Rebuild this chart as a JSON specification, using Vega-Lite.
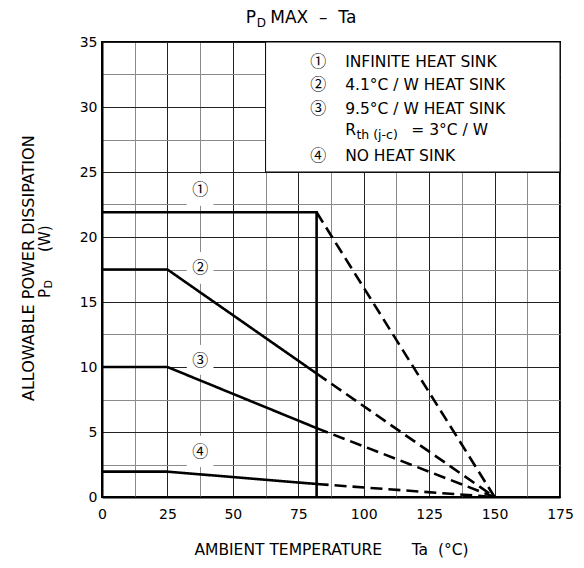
{
  "$schema": "https://vega.github.io/schema/vega-lite/v6.json",
  "width": 458,
  "height": 455,
  "autosize": "none",
  "padding": {"left": 102, "top": 42, "right": 24, "bottom": 71},
  "background": "white",
  "config": {
    "font": "DejaVu Sans",
    "view": {"stroke": "#000", "strokeWidth": 2},
    "text": {"font": "DejaVu Sans", "color": "#000"}
  },
  "datasets": {
    "curves": [
      {"s": "1", "part": "rated", "i": 0, "x": 0, "y": 21.9},
      {"s": "1", "part": "rated", "i": 1, "x": 82, "y": 21.9},
      {"s": "1", "part": "rated", "i": 2, "x": 82, "y": 0},
      {"s": "1", "part": "extrapolated", "i": 0, "x": 82, "y": 21.9},
      {"s": "1", "part": "extrapolated", "i": 1, "x": 150, "y": 0},
      {"s": "2", "part": "rated", "i": 0, "x": 0, "y": 17.5},
      {"s": "2", "part": "rated", "i": 1, "x": 25, "y": 17.5},
      {"s": "2", "part": "rated", "i": 2, "x": 82, "y": 9.5},
      {"s": "2", "part": "extrapolated", "i": 0, "x": 82, "y": 9.5},
      {"s": "2", "part": "extrapolated", "i": 1, "x": 150, "y": 0},
      {"s": "3", "part": "rated", "i": 0, "x": 0, "y": 10},
      {"s": "3", "part": "rated", "i": 1, "x": 25, "y": 10},
      {"s": "3", "part": "rated", "i": 2, "x": 82, "y": 5.3},
      {"s": "3", "part": "extrapolated", "i": 0, "x": 82, "y": 5.3},
      {"s": "3", "part": "extrapolated", "i": 1, "x": 150, "y": 0},
      {"s": "4", "part": "rated", "i": 0, "x": 0, "y": 1.95},
      {"s": "4", "part": "rated", "i": 1, "x": 25, "y": 1.95},
      {"s": "4", "part": "rated", "i": 2, "x": 82, "y": 1.0},
      {"s": "4", "part": "extrapolated", "i": 0, "x": 82, "y": 1.0},
      {"s": "4", "part": "extrapolated", "i": 1, "x": 150, "y": 0}
    ],
    "legendBox": [{"x": 62.5, "x2": 175, "y": 25, "y2": 35}],
    "labelBoxes": [
      {"x": 32.4, "x2": 42.6, "y": 22.4, "y2": 24.85},
      {"x": 32.4, "x2": 42.6, "y": 16.4, "y2": 18.85},
      {"x": 32.4, "x2": 42.6, "y": 9.4, "y2": 11.7},
      {"x": 32.4, "x2": 42.6, "y": 2.3, "y2": 4.7}
    ],
    "circled": [
      {"x": 37.5, "y": 23.6, "t": "①"},
      {"x": 37.5, "y": 17.6, "t": "②"},
      {"x": 37.5, "y": 10.5, "t": "③"},
      {"x": 37.5, "y": 3.5, "t": "④"},
      {"x": 82.6, "y": 33.46, "t": "①"},
      {"x": 82.6, "y": 31.69, "t": "②"},
      {"x": 82.6, "y": 29.85, "t": "③"},
      {"x": 82.6, "y": 26.23, "t": "④"}
    ],
    "legendText": [
      {"x": 92.9, "y": 33.46, "t": "INFINITE HEAT SINK"},
      {"x": 92.9, "y": 31.69, "t": "4.1°C / W HEAT SINK"},
      {"x": 92.9, "y": 29.85, "t": "9.5°C / W HEAT SINK"},
      {"x": 92.9, "y": 28.23, "t": "R"},
      {"x": 118.2, "y": 28.23, "t": "= 3°C / W"},
      {"x": 92.9, "y": 26.23, "t": "NO HEAT SINK"}
    ],
    "legendSub": [
      {"x": 97.2, "y": 28.23, "t": "th (j-c)"}
    ],
    "titleP": [
      {"x": 58.85, "y": 36.85, "t": "P"}
    ],
    "titleRest": [
      {"x": 64.3, "y": 36.85, "t": "MAX\u00a0\u00a0–\u00a0\u00a0Ta"}
    ],
    "titleSub": [
      {"x": 59.1, "y": 36.85, "t": "D"}
    ],
    "yTitle": [
      {"x": -27.9, "y": 17.6, "t": "ALLOWABLE POWER DISSIPATION"}
    ],
    "yTitle2": [
      {"x": -21.8, "y": 15.31, "t": "P"},
      {"x": -21.8, "y": 18.85, "t": "(W)"}
    ],
    "yTitle2Sub": [
      {"x": -21.8, "y": 16.04, "t": "D"}
    ]
  },
  "encoding": {
    "x": {
      "field": "x", "type": "quantitative",
      "scale": {"domain": [0, 175], "nice": false, "zero": false},
      "axis": {
        "values": [0, 12.5, 25, 37.5, 50, 62.5, 75, 87.5, 100, 112.5, 125, 137.5, 150, 162.5, 175],
        "labelExpr": "datum.value % 25 === 0 ? datum.label : ''",
        "labelOverlap": false,
        "labelFlush": false,
        "ticks": false,
        "grid": true,
        "gridColor": {"condition": {"test": "datum.value % 25 === 0", "value": "#222"}, "value": "#8a8a8a"},
        "gridWidth": 1,
        "domainColor": "#000",
        "domainWidth": 2,
        "labelFont": "DejaVu Sans",
        "labelFontSize": 14,
        "labelColor": "#000",
        "labelPadding": 10,
        "title": "AMBIENT TEMPERATURE\u00a0\u00a0\u00a0\u00a0\u00a0\u00a0Ta\u00a0\u00a0(°C)",
        "titleFont": "DejaVu Sans",
        "titleFontSize": 15.5,
        "titleFontWeight": "normal",
        "titleColor": "#000",
        "titlePadding": 21
      }
    },
    "y": {
      "field": "y", "type": "quantitative",
      "scale": {"domain": [0, 35], "nice": false, "zero": false},
      "axis": {
        "values": [0, 2.5, 5, 7.5, 10, 12.5, 15, 17.5, 20, 22.5, 25, 27.5, 30, 32.5, 35],
        "labelExpr": "datum.value % 5 === 0 ? datum.label : ''",
        "labelOverlap": false,
        "labelFlush": false,
        "ticks": false,
        "grid": true,
        "gridColor": {"condition": {"test": "datum.value % 5 === 0", "value": "#222"}, "value": "#8a8a8a"},
        "gridWidth": 1,
        "domainColor": "#000",
        "domainWidth": 2,
        "labelFont": "DejaVu Sans",
        "labelFontSize": 14,
        "labelColor": "#000",
        "labelPadding": 5,
        "title": null
      }
    }
  },
  "layer": [
    {
      "data": {"name": "legendBox"},
      "mark": {"type": "rect", "fill": "white", "stroke": "#000", "strokeWidth": 1},
      "encoding": {"x2": {"field": "x2"}, "y2": {"field": "y2"}}
    },
    {
      "data": {"name": "labelBoxes"},
      "mark": {"type": "rect", "fill": "white", "strokeWidth": 0},
      "encoding": {"x2": {"field": "x2"}, "y2": {"field": "y2"}}
    },
    {
      "data": {"name": "curves"},
      "mark": {"type": "line", "color": "#000", "strokeWidth": 2.6},
      "encoding": {
        "detail": [{"field": "s"}, {"field": "part"}],
        "order": {"field": "i", "type": "quantitative"},
        "strokeDash": {
          "field": "part", "type": "nominal",
          "scale": {"domain": ["rated", "extrapolated"], "range": [[1, 0], [12, 6]]},
          "legend": null
        }
      }
    },
    {
      "data": {"name": "circled"},
      "mark": {"type": "text", "font": "Noto Sans CJK JP", "fontSize": 16, "align": "center", "baseline": "middle"},
      "encoding": {"text": {"field": "t"}}
    },
    {
      "data": {"name": "legendText"},
      "mark": {"type": "text", "fontSize": 15.5, "align": "left", "baseline": "middle"},
      "encoding": {"text": {"field": "t"}}
    },
    {
      "data": {"name": "legendSub"},
      "mark": {"type": "text", "fontSize": 12.5, "align": "left", "baseline": "middle", "dy": 5},
      "encoding": {"text": {"field": "t"}}
    },
    {
      "data": {"name": "titleP"},
      "mark": {"type": "text", "fontSize": 17, "align": "right", "baseline": "middle"},
      "encoding": {"text": {"field": "t"}}
    },
    {
      "data": {"name": "titleRest"},
      "mark": {"type": "text", "fontSize": 17, "align": "left", "baseline": "middle"},
      "encoding": {"text": {"field": "t"}}
    },
    {
      "data": {"name": "titleSub"},
      "mark": {"type": "text", "fontSize": 12, "align": "left", "baseline": "middle", "dy": 5},
      "encoding": {"text": {"field": "t"}}
    },
    {
      "data": {"name": "yTitle"},
      "mark": {"type": "text", "fontSize": 16, "align": "center", "baseline": "middle", "angle": 270},
      "encoding": {"text": {"field": "t"}}
    },
    {
      "data": {"name": "yTitle2"},
      "mark": {"type": "text", "fontSize": 15, "align": "left", "baseline": "middle", "angle": 270},
      "encoding": {"text": {"field": "t"}}
    },
    {
      "data": {"name": "yTitle2Sub"},
      "mark": {"type": "text", "fontSize": 11, "align": "left", "baseline": "middle", "angle": 270, "dy": 4},
      "encoding": {"text": {"field": "t"}}
    }
  ]
}
